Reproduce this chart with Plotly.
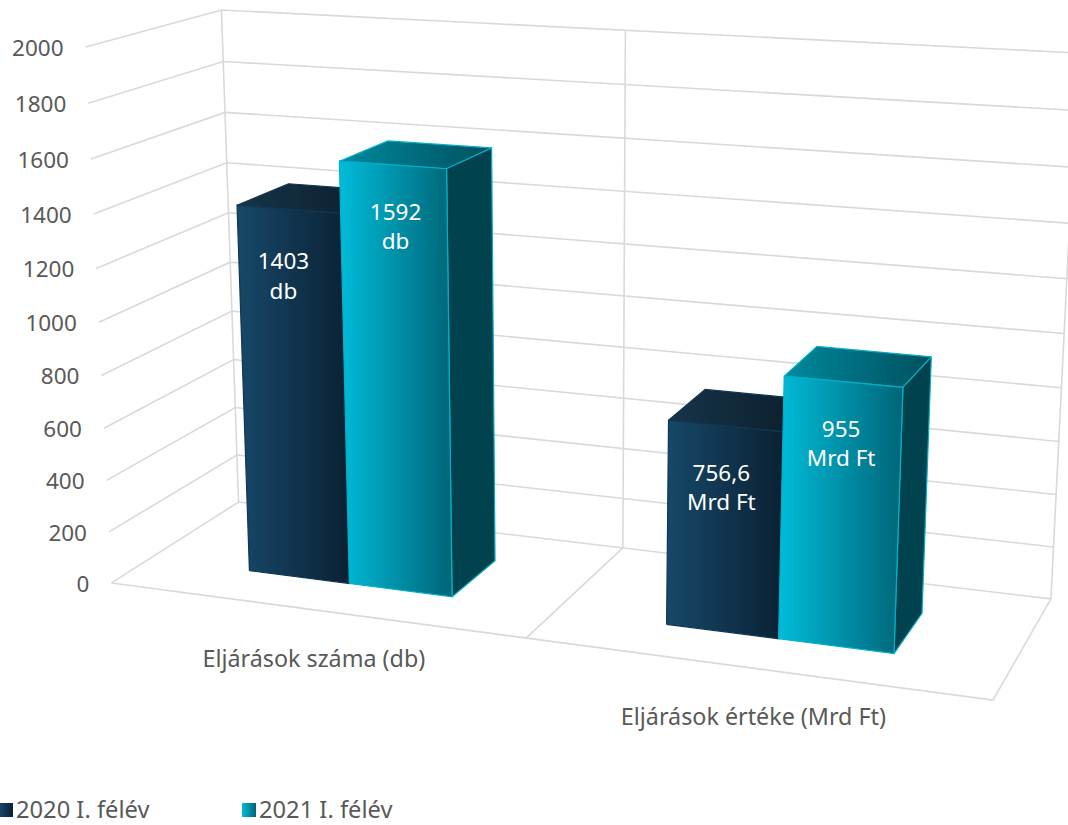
import numpy as np
import plotly.graph_objects as go

categories = ["Eljárások száma (db)", "Eljárások értéke (Mrd Ft)"]
series_names = ["2020 I. félév", "2021 I. félév"]
values_2020 = [1403, 756.6]
values_2021 = [1592, 955]
labels_2020 = ["1403<br>db", "756,6<br>Mrd Ft"]
labels_2021 = ["1592<br>db", "955<br>Mrd Ft"]
ticks = [0, 200, 400, 600, 800, 1000, 1200, 1400, 1600, 1800, 2000]
AXIS_MAX = 2000

# Perspective of the 3-D plot box: box corners (across, depth, height) -> page pixels
frame_world = [(0, 0, 0), (1, 0, 0), (0, 1, 0), (1, 1, 0), (0, 0, 1), (0, 1, 1), (1, 1, 1)]
frame_px = [(112, 583), (993, 700), (238, 502), (1051, 599), (85, 47), (222, 10), (1078, 53)]
rows = []
for (a, b, c), (x, y) in zip(frame_world, frame_px):
    rows.append([a, b, c, 1, 0, 0, 0, 0, -x * a, -x * b, -x * c, -x])
    rows.append([0, 0, 0, 0, a, b, c, 1, -y * a, -y * b, -y * c, -y])
P = np.linalg.svd(np.array(rows, float))[2][-1].reshape(3, 4)


def pr(u, v, value):
    q = P @ np.array([u, v, value / AXIS_MAX, 1.0])
    return q[0] / q[2], q[1] / q[2]


FONT = "Noto Sans"
TEXT = "#595959"
GRID = "#d9d9d9"
FS = 22.5
n_cat = len(categories)
BAR_W = 0.25  # combined width of a group's two bars, in box units
GROUP_SHIFT = 0.002
DEPTH = (0.29, 0.70)

fig = go.Figure()


def line(points):
    fig.add_trace(go.Scatter(x=[p[0] for p in points], y=[p[1] for p in points], mode="lines",
                             line=dict(color=GRID, width=1.6), hoverinfo="skip", showlegend=False))


def text(x, y, s, pos="middle center", color=TEXT, size=FS):
    fig.add_trace(go.Scatter(x=[x], y=[y], mode="text", text=[s], textposition=pos,
                             textfont=dict(family=FONT, size=size, color=color),
                             hoverinfo="skip", showlegend=False))


# walls and floor
for t in ticks:
    line([pr(0, 0, t), pr(0, 1, t), pr(1, 1, t)])
    px, py = pr(0, 0, t)
    text(px - 22, py + 3, str(t), "middle left")
for u in (0, 0.5, 1):
    line([pr(u, 1, 0), pr(u, 1, AXIS_MAX)])
line([pr(0, 0, 0), pr(1, 0, 0), pr(1, 1, 0)])
line([pr(0.5, 0, 0), pr(0.5, 1, 0)])


def face(corners, c0, c1, outline, name, width=1.2):
    xs = [p[0] for p in corners] + [corners[0][0]]
    ys = [p[1] for p in corners] + [corners[0][1]]
    fig.add_trace(go.Scatter(x=xs, y=ys, mode="lines", fill="toself", name=name,
                             line=dict(color=outline, width=width),
                             fillgradient=dict(type="horizontal", colorscale=[[0, c0], [1, c1]]),
                             hoverinfo="name", showlegend=False))


def bar(u0, u1, value, front, top, side, outline, name):
    v0, v1 = DEPTH
    face([pr(u0, v0, value), pr(u0, v1, value), pr(u1, v1, value), pr(u1, v0, value)], top[0], top[1], outline, name)
    face([pr(u1, v0, 0), pr(u1, v1, 0), pr(u1, v1, value), pr(u1, v0, value)], side, side, outline, name)
    face([pr(u0, v0, 0), pr(u1, v0, 0), pr(u1, v0, value), pr(u0, v0, value)], front[0], front[1], outline, name)


DARK = dict(front=("#17486a", "#0a2133"), top=("#163449", "#0b1c29"), side="#0d2a3c", outline="#123650")
CYAN = dict(front=("#00bcd9", "#006577"), top=("#00899d", "#00505e"), side="#00434e", outline="#00b0c9")
label_dx_2020 = [-5, -4]
label_dy_2020 = [69, 64]
label_dx_2021 = [3, -2]
label_dy_2021 = [64, 64]
for i in range(n_cat):
    centre = (i + 0.5) / n_cat
    mid = centre + GROUP_SHIFT
    left, right = mid - BAR_W / 2, mid + BAR_W / 2
    bar(left, mid, values_2020[i], name=series_names[0], **DARK)
    bar(mid, right, values_2021[i], name=series_names[1], **CYAN)
    for u0, u1, val, lab, dx, dy in ((left, mid, values_2020[i], labels_2020[i], label_dx_2020[i], label_dy_2020[i]),
                                     (mid, right, values_2021[i], labels_2021[i], label_dx_2021[i], label_dy_2021[i])):
        px, py = pr((u0 + u1) / 2, DEPTH[0], val)
        text(px + dx, py + dy, lab, color="white")
    px, py = pr(centre, 0, 0)
    text(px + 1, py + 51, categories[i], size=23.3)

# legend
legend_x = [6, 249]
for x0, name, style in zip(legend_x, series_names, (DARK, CYAN)):
    fig.add_trace(go.Scatter(x=[x0], y=[810], mode="markers", hoverinfo="skip", showlegend=False,
                             marker=dict(symbol="square", size=14, color=style["front"][0],
                                         gradient=dict(type="horizontal", color=style["front"][1]),
                                         line=dict(width=0))))
    text(x0 + 10, 812, name, "middle right", size=23.7)

fig.update_layout(width=1068, height=825, margin=dict(l=0, r=0, t=0, b=0),
                  paper_bgcolor="white", plot_bgcolor="white", showlegend=False,
                  xaxis=dict(range=[0, 1068], visible=False),
                  yaxis=dict(range=[825, 0], visible=False))
fig.write_html("out.html", post_script="document.body.style.margin='0';",
               config=dict(displayModeBar=False))
